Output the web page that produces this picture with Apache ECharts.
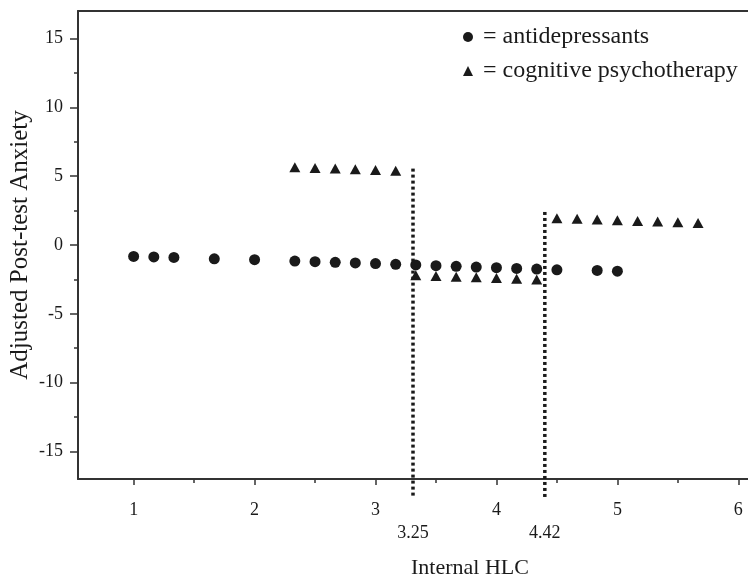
<!DOCTYPE html>
<html>
<head>
<meta charset="utf-8">
<script src="https://cdn.jsdelivr.net/npm/echarts@6/dist/echarts.min.js"></script>
<style>
  html, body { margin: 0; padding: 0; background: #fff; }
  #main { width: 748px; height: 580px; }
</style>
</head>
<body>
<div id="main"></div>
<script>
const FONT = '"Liberation Serif", "Times New Roman", serif';
const INK = '#1a1a1a';

const xTicks = [1, 2, 3, 4, 5, 6];
const xMinorTicks = [1.5, 2.5, 3.5, 4.5, 5.5];
const yTicks = [-15, -10, -5, 0, 5, 10, 15];
const yMinorTicks = [-12.5, -7.5, -2.5, 2.5, 7.5, 12.5];

// antidepressants (circles)
const antiX = [1, 1.167, 1.333, 1.667, 2, 2.333, 2.5, 2.667, 2.833, 3, 3.167, 3.333, 3.5, 3.667, 3.833, 4, 4.167, 4.333, 4.5, 4.833, 5];
const antiY = [-0.83, -0.87, -0.9, -1.0, -1.07, -1.17, -1.21, -1.26, -1.3, -1.35, -1.4, -1.45, -1.5, -1.55, -1.6, -1.65, -1.7, -1.75, -1.8, -1.85, -1.9];

// cognitive psychotherapy (triangles)
const cogX = [2.333, 2.5, 2.667, 2.833, 3, 3.167, 3.333, 3.5, 3.667, 3.833, 4, 4.167, 4.333, 4.5, 4.667, 4.833, 5, 5.167, 5.333, 5.5, 5.667];
const cogY = [5.65, 5.6, 5.55, 5.5, 5.45, 5.4, -2.2, -2.25, -2.3, -2.35, -2.4, -2.45, -2.5, 1.95, 1.9, 1.85, 1.8, 1.75, 1.7, 1.65, 1.6];

// regions-of-significance cut points (dotted verticals)
const cutX = [3.31, 4.4];
const cutTop = [5.55, 2.4];
const cutBottom = -18.4;
const cutLabels = ['3.25', '4.42'];

const zip = (xs, ys) => xs.map((x, i) => [x, ys[i]]);

const chart = echarts.init(document.getElementById('main'));

const xBase = { type: 'value', min: 0.54, max: 6.08, splitLine: { show: false } };
const yBase = { type: 'value', min: -17, max: 17, splitLine: { show: false } };

const cutSeries = cutX.map((x, i) => ({
  name: 'cut' + i,
  type: 'line',
  clip: false,
  symbol: 'none',
  silent: true,
  data: [[x, cutTop[i]], [x, cutBottom]],
  lineStyle: { color: INK, width: 3.5, type: [3, 3], cap: 'butt' },
  z: 1,
}));

chart.setOption({
  animation: false,
  backgroundColor: '#fff',
  textStyle: { fontFamily: FONT },
  grid: { left: 78, right: 0, top: 11, bottom: 101, outerBoundsMode: 'none', containLabel: false },
  legend: {
    data: ['antidepressants', 'cognitive psychotherapy'],
    orient: 'vertical',
    left: 458,
    top: 20,
    itemWidth: 10,
    itemHeight: 10,
    itemGap: 10,
    formatter: (name) => '= ' + name,
    textStyle: { fontFamily: FONT, fontSize: 24, color: INK, lineHeight: 24, padding: [0, 0, 0, 5] },
  },
  xAxis: [
    Object.assign({}, xBase, {
      position: 'bottom',
      axisLine: { onZero: false, lineStyle: { color: '#333', width: 2 } },
      axisTick: { customValues: xTicks, length: 6, lineStyle: { color: '#333', width: 1.5 } },
      axisLabel: { customValues: xTicks, margin: 22, fontFamily: FONT, fontSize: 18, color: INK },
    }),
    Object.assign({}, xBase, {
      position: 'bottom',
      axisLine: { show: false, onZero: false },
      axisTick: { customValues: xMinorTicks, length: 4, lineStyle: { color: '#333', width: 1.5 } },
      axisLabel: { show: false },
    }),
    Object.assign({}, xBase, {
      position: 'bottom',
      axisLine: { show: false, onZero: false },
      axisTick: { show: false },
      axisLabel: {
        customValues: cutX,
        formatter: (v) => cutLabels[cutX.indexOf(v)],
        margin: 45, fontFamily: FONT, fontSize: 18, color: INK,
      },
    }),
    Object.assign({}, xBase, {
      position: 'top',
      axisLine: { onZero: false, lineStyle: { color: '#333', width: 2 } },
      axisTick: { show: false },
      axisLabel: { show: false },
    }),
  ],
  yAxis: [
    Object.assign({}, yBase, {
      position: 'left',
      name: 'Adjusted Post-test Anxiety',
      nameLocation: 'middle',
      nameGap: 45,
      nameMoveOverlap: false,
      nameTextStyle: { fontFamily: FONT, fontSize: 25, color: INK },
      axisLine: { onZero: false, lineStyle: { color: '#333', width: 2 } },
      axisTick: { customValues: yTicks, length: 8, lineStyle: { color: '#333', width: 1.5 } },
      axisLabel: { customValues: yTicks, margin: 15, fontFamily: FONT, fontSize: 18, color: INK },
    }),
    Object.assign({}, yBase, {
      position: 'left',
      axisLine: { show: false, onZero: false },
      axisTick: { customValues: yMinorTicks, length: 4, lineStyle: { color: '#333', width: 1.5 } },
      axisLabel: { show: false },
    }),
  ],
  graphic: [
    {
      type: 'text',
      x: 470,
      y: 568,
      style: { text: 'Internal HLC', align: 'center', verticalAlign: 'middle', font: '22px ' + FONT, fill: INK },
    },
  ],
  series: [
    {
      name: 'antidepressants',
      type: 'scatter',
      symbol: 'circle',
      symbolSize: 11,
      itemStyle: { color: INK, opacity: 1 },
      data: zip(antiX, antiY),
      z: 3,
    },
    {
      name: 'cognitive psychotherapy',
      type: 'scatter',
      symbol: 'triangle',
      symbolSize: [11, 10],
      itemStyle: { color: INK, opacity: 1 },
      data: zip(cogX, cogY),
      z: 3,
    },
  ].concat(cutSeries),
});
</script>
</body>
</html>
